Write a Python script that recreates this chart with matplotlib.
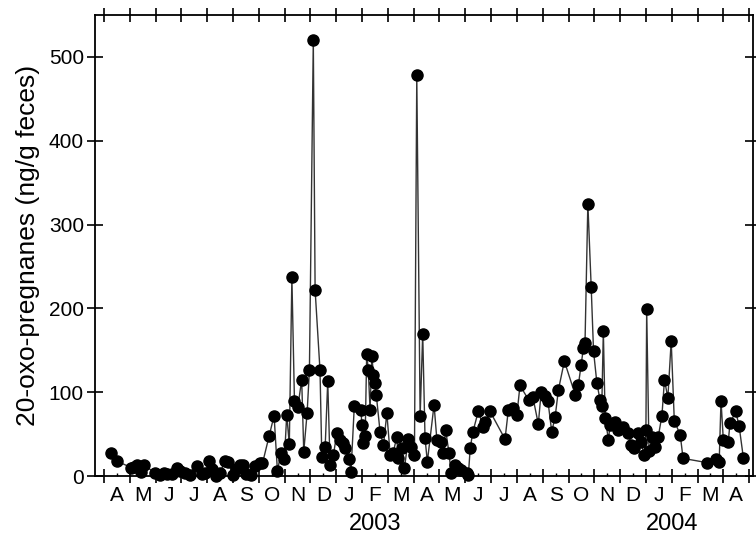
import matplotlib
matplotlib.use("Agg")
import matplotlib.pyplot as plt
from matplotlib.ticker import FixedLocator, NullFormatter

plt.rcParams['font.family'] = ['Liberation Sans', 'DejaVu Sans']

# x: months since 1 April 2002 ; y: 20-oxo-pregnanes (ng/g feces)
months = [0.27, 0.49, 1.05, 1.16, 1.28, 1.43, 1.53, 1.98, 2.17, 2.33, 2.44, 2.64, 2.83, 2.95,
          3.14, 3.33, 3.59, 3.79, 3.91, 4.08, 4.19, 4.34, 4.50, 4.69, 4.81, 5.00, 5.12, 5.27,
          5.38, 5.50, 5.70, 5.85, 6.05, 6.14, 6.40, 6.59, 6.72, 6.86, 6.99, 7.08, 7.18, 7.28,
          7.38, 7.51, 7.66, 7.74, 7.87, 7.96, 8.11, 8.18, 8.37, 8.44, 8.57, 8.67, 8.76, 8.89,
          9.02, 9.15, 9.28, 9.34, 9.50, 9.57, 9.70, 9.96, 9.99, 10.05, 10.12, 10.18, 10.24,
          10.31, 10.38, 10.44, 10.50, 10.55, 10.70, 10.83, 10.96, 11.09, 11.20, 11.34, 11.41,
          11.54, 11.64, 11.79, 11.90, 12.03, 12.12, 12.25, 12.35, 12.44, 12.53, 12.79, 12.90,
          13.05, 13.15, 13.24, 13.37, 13.45, 13.60, 13.72, 13.84, 14.06, 14.12, 14.19, 14.29,
          14.51, 14.68, 14.77, 14.96, 15.54, 15.67, 15.86, 16.00, 16.12, 16.45, 16.62, 16.83,
          16.94, 17.07, 17.20, 17.35, 17.48, 17.61, 17.84, 18.26, 18.38, 18.49, 18.58, 18.64,
          18.75, 18.88, 18.97, 19.10, 19.22, 19.29, 19.35, 19.42, 19.55, 19.61, 19.81, 19.92,
          20.13, 20.32, 20.43, 20.55, 20.69, 20.81, 20.94, 21.00, 21.03, 21.12, 21.25, 21.36,
          21.48, 21.62, 21.72, 21.85, 21.98, 22.10, 22.33, 22.44, 23.36, 23.71, 23.84, 23.91,
          24.00, 24.19, 24.26, 24.48, 24.61, 24.78]
values = [28, 18, 10, 11, 13, 5, 13, 4, 1, 3, 2, 2, 10, 6,
          3, 1, 12, 2, 3, 18, 8, 0, 4, 18, 17, 1, 8, 13,
          13, 2, 1, 12, 15, 15, 48, 72, 6, 28, 20, 73, 38, 237,
          89, 82, 115, 29, 75, 127, 520, 222, 126, 23, 35, 113, 13, 25,
          51, 43, 39, 33, 20, 5, 84, 79, 61, 39, 48, 146, 127,
          79, 143, 121, 111, 97, 52, 37, 75, 25, 27, 46, 21,
          33, 9, 44, 35, 25, 478, 71, 170, 45, 17, 85, 43,
          41, 27, 55, 27, 3, 13, 9, 7, 3, 1, 33, 52,
          78, 59, 64, 77, 44, 79, 81, 73, 108, 91, 94, 62,
          100, 96, 90, 53, 70, 103, 137, 97, 108, 133, 153, 159,
          325, 225, 149, 111, 91, 83, 173, 69, 43, 61, 65, 55,
          59, 51, 37, 33, 51, 40, 25, 55, 199, 30, 47, 35,
          47, 72, 115, 93, 161, 66, 49, 21, 16, 20, 17, 90,
          43, 41, 63, 77, 60, 21]

month_labels = ['A', 'M', 'J', 'J', 'A', 'S', 'O', 'N', 'D', 'J', 'F', 'M',
                'A', 'M', 'J', 'J', 'A', 'S', 'O', 'N', 'D', 'J', 'F', 'M', 'A']
year_labels = ['2003', '2004']
year_positions = [10.5, 22.0]
y_ticks = [0, 100, 200, 300, 400, 500]

fig = plt.figure(figsize=(7.56, 5.37), dpi=100)
ax = fig.add_axes([95 / 756, (537 - 476) / 537, (753 - 95) / 756, (476 - 15) / 537])

ax.plot(months, values, color='#333333', lw=1.0, marker='o', ms=8,
        mfc='black', mec='black', zorder=3, clip_on=False)

ax.set_xlim(-0.35, len(month_labels) + 0.15)
ax.set_ylim(0, 550)

major = list(range(len(month_labels) + 1))
minor = [i + 0.5 for i in range(len(month_labels))]
ax.xaxis.set_major_locator(FixedLocator(major))
ax.xaxis.set_major_formatter(NullFormatter())
ax.xaxis.set_minor_locator(FixedLocator(minor))
ax.set_xticklabels(month_labels, minor=True)
ax.tick_params(axis='x', which='major', direction='inout', length=10, width=1.2,
               top=True)
ax.tick_params(axis='x', which='minor', direction='in', length=2, width=1.0,
               pad=7, labelsize=15)

ax.set_yticks(y_ticks)
ax.tick_params(axis='y', which='major', direction='inout', length=12, width=1.2,
               right=True, labelsize=15, pad=2)

for s in ax.spines.values():
    s.set_linewidth(1.3)

for lab, pos in zip(year_labels, year_positions):
    ax.text(pos, -0.105, lab, transform=ax.get_xaxis_transform(),
            ha='center', va='center', fontsize=17)

ax.set_ylabel('20-oxo-pregnanes (ng/g feces)', fontsize=19, labelpad=6)

fig.savefig('out.png', dpi=100)
